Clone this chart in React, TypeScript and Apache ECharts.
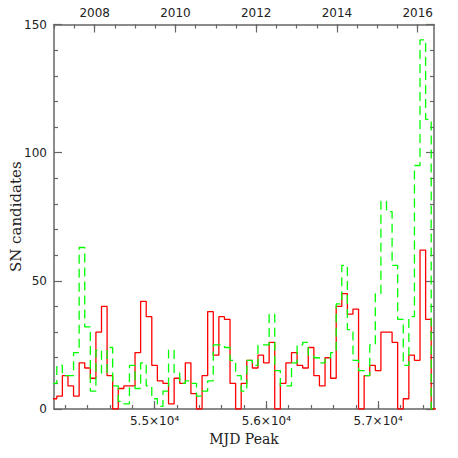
import React, { useEffect, useRef } from 'react';
import * as echarts from 'echarts';

// Histogram bins: left edge of first bin (MJD) and bin width (days)
const BIN_START = 54075;
const BIN_WIDTH = 50;

const RED_COUNTS = [
  4,
  5, 13, 9, 5, 18, 16, 12, 30, 40, 13, 0,
  8, 9, 9, 22, 42, 36, 17, 11, 10, 2,
  12, 10, 18, 6, 0, 13, 38, 21, 36, 35,
  10, 0, 10, 19, 16, 21, 18, 26, 0, 10,
  18, 22, 17, 16, 24, 13, 9, 20, 12, 40,
  45, 37, 39, 0, 13, 17, 15, 30, 30, 26,
  0, 4, 21, 19, 62, 35, 0,
];

const GREEN_COUNTS = [
  10,
  17, 13, 13, 22, 63, 32, 7, 23, 14, 24, 9,
  3, 2, 17, 8, 18, 9, 4, 1, 7, 23,
  14, 10, 11, 10, 5, 7, 11, 25, 25, 24,
  19, 13, 7, 19, 17, 25, 25, 37, 15, 9,
  9, 18, 25, 26, 21, 20, 18, 20, 22, 41,
  56, 31, 19, 15, 13, 25, 45, 81, 77, 56,
  35, 17, 36, 95, 144, 113, 0,
];

const MJD_MIN = 54100;
const MJD_MAX = 57500;
const MJD_TICK_LABELS = [55000, 56000, 57000];
const MJD_MINOR_TICKS = [
  54200, 54400, 54600, 54800, 55000, 55200, 55400, 55600, 55800,
  56000, 56200, 56400, 56600, 56800, 57000, 57200, 57400,
];
const YEAR_MIN = 2006.992;
const YEAR_MAX = 2016.404;
const YEAR_TICK_LABELS = [2008, 2010, 2012, 2014, 2016];
const YEAR_MINOR_TICKS = [
  2007, 2007.5, 2008, 2008.5, 2009, 2009.5, 2010, 2010.5, 2011, 2011.5,
  2012, 2012.5, 2013, 2013.5, 2014, 2014.5, 2015, 2015.5, 2016,
];
const Y_MIN = 0;
const Y_MAX = 150;
const Y_INTERVAL = 50;

function stepPoints(counts: number[]): number[][] {
  const pts = counts.map((c, i) => [BIN_START + i * BIN_WIDTH, c]);
  pts.push([BIN_START + counts.length * BIN_WIDTH, counts[counts.length - 1]]);
  return pts;
}

const AXIS_COLOR = '#666';
const TEXT_COLOR = '#222';
const SANS = 'DejaVu Sans';
const SERIF = 'DejaVu Serif';

export default function App() {
  const ref = useRef<HTMLDivElement>(null);

  useEffect(() => {
    document.body.style.margin = '0';
    if (!ref.current) return;
    const chart = echarts.init(ref.current, undefined, { renderer: 'svg' });
    const axisLine = { show: true, lineStyle: { color: AXIS_COLOR, width: 1.5 } };
    const tickStyle = { color: AXIS_COLOR, width: 1.2 };
    const option: any = {
      animation: false,
      backgroundColor: '#fff',
      grid: {
        left: 54,
        right: 24,
        top: 24.5,
        bottom: 49,
        containLabel: false,
        outerBoundsMode: 'none',
      },
      xAxis: [
        {
          type: 'value',
          position: 'bottom',
          min: MJD_MIN,
          max: MJD_MAX,
          axisLine,
          splitLine: { show: false },
          axisTick: { show: true, inside: true, length: 8, customValues: MJD_TICK_LABELS, lineStyle: tickStyle },
          axisLabel: {
            customValues: MJD_TICK_LABELS,
            margin: 6,
            color: TEXT_COLOR,
            fontFamily: SANS,
            fontSize: 12,
            formatter: (v: number) => (v / 10000).toFixed(1) + '×10⁴',
          },
          name: 'MJD Peak',
          nameLocation: 'middle',
          nameGap: 20,
          nameTextStyle: { color: TEXT_COLOR, fontFamily: SERIF, fontSize: 14 },
        },
        {
          type: 'value',
          position: 'bottom',
          min: MJD_MIN,
          max: MJD_MAX,
          axisLine: { show: false },
          splitLine: { show: false },
          axisTick: { show: true, inside: true, length: 4, customValues: MJD_MINOR_TICKS, lineStyle: tickStyle },
          axisLabel: { show: false },
        },
        {
          type: 'value',
          position: 'top',
          min: YEAR_MIN,
          max: YEAR_MAX,
          axisLine,
          splitLine: { show: false },
          axisTick: { show: true, inside: true, length: 8, customValues: YEAR_TICK_LABELS, lineStyle: tickStyle },
          axisLabel: {
            customValues: YEAR_TICK_LABELS,
            margin: 6,
            color: TEXT_COLOR,
            fontFamily: SANS,
            fontSize: 12,
            formatter: (v: number) => String(Math.round(v)),
          },
        },
        {
          type: 'value',
          position: 'top',
          min: YEAR_MIN,
          max: YEAR_MAX,
          axisLine: { show: false },
          splitLine: { show: false },
          axisTick: { show: true, inside: true, length: 4, customValues: YEAR_MINOR_TICKS, lineStyle: tickStyle },
          axisLabel: { show: false },
        },
      ],
      yAxis: [
        {
          type: 'value',
          position: 'left',
          min: Y_MIN,
          max: Y_MAX,
          interval: Y_INTERVAL,
          axisLine,
          splitLine: { show: false },
          axisTick: { show: true, inside: true, length: 8, lineStyle: tickStyle },
          minorTick: { show: true, splitNumber: 5, length: 4, lineStyle: tickStyle },
          minorSplitLine: { show: false },
          axisLabel: { margin: 7, color: TEXT_COLOR, fontFamily: SANS, fontSize: 12 },
          name: 'SN candidates',
          nameLocation: 'middle',
          nameGap: 31,
          nameMoveOverlap: false,
          nameTextStyle: { color: TEXT_COLOR, fontFamily: SERIF, fontSize: 15 },
        },
        {
          type: 'value',
          position: 'right',
          min: Y_MIN,
          max: Y_MAX,
          interval: Y_INTERVAL,
          axisLine,
          splitLine: { show: false },
          axisTick: { show: true, inside: true, length: 8, lineStyle: tickStyle },
          minorTick: { show: true, splitNumber: 5, length: 4, lineStyle: tickStyle },
          minorSplitLine: { show: false },
          axisLabel: { show: false },
        },
      ],
      series: [
        {
          type: 'line',
          xAxisIndex: 0,
          yAxisIndex: 0,
          step: 'end',
          data: stepPoints(RED_COUNTS),
          showSymbol: false,
          symbol: 'none',
          clip: true,
          lineStyle: { color: '#ff0000', width: 1.3 },
          z: 3,
        },
        {
          type: 'line',
          xAxisIndex: 0,
          yAxisIndex: 0,
          step: 'end',
          data: stepPoints(GREEN_COUNTS),
          showSymbol: false,
          symbol: 'none',
          clip: true,
          lineStyle: { color: '#00ff00', width: 1.3, type: [9, 5] },
          z: 4,
        },
      ],
    };
    chart.setOption(option);
    return () => chart.dispose();
  }, []);

  return (
    <div
      ref={ref}
      style={{ position: 'absolute', left: 0, top: 0, width: 458, height: 458 }}
    />
  );
}
